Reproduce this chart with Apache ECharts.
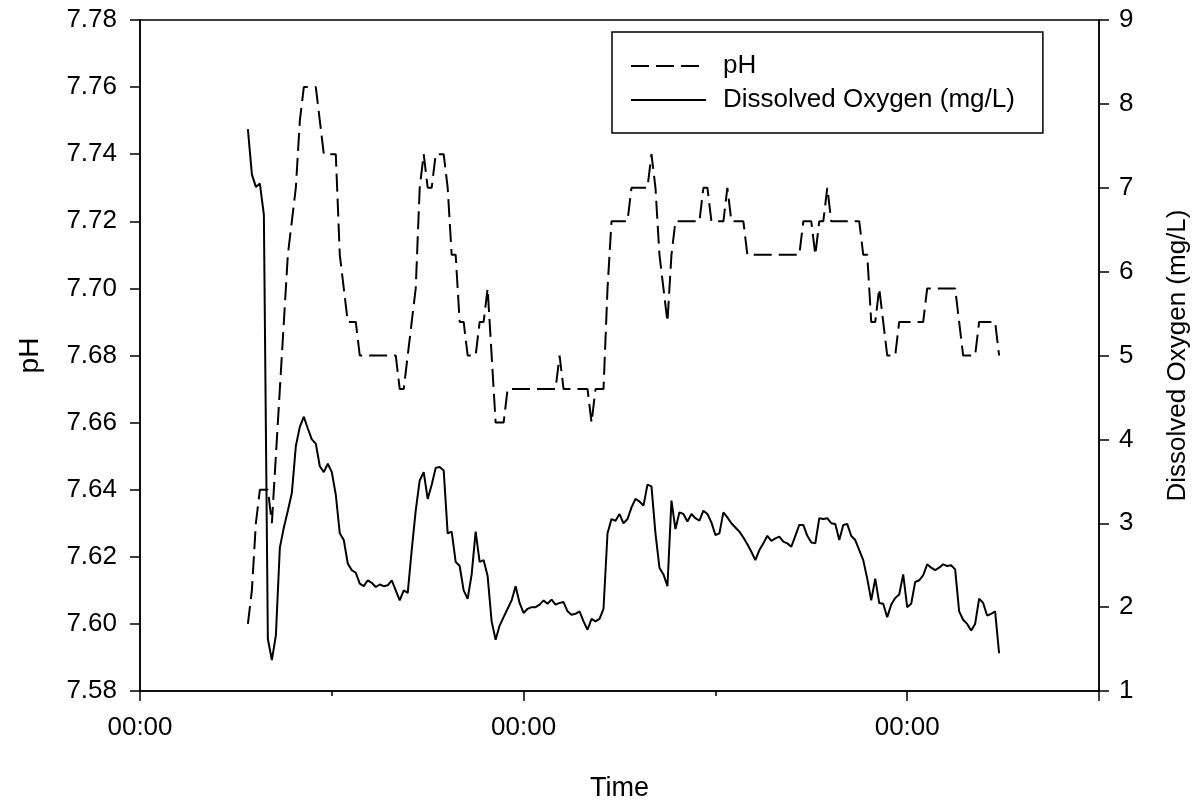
<!DOCTYPE html>
<html>
<head>
<meta charset="utf-8">
<script src="https://cdn.jsdelivr.net/npm/echarts@6.0.0/dist/echarts.min.js"></script>
<style>
  html, body { margin: 0; padding: 0; background: #fff; }
  #chart { width: 1193px; height: 801px; }
</style>
</head>
<body>
<div id="chart"></div>
<script>
// ---- data ----
// sampling: every 15 minutes, starting 06:45 of the first day (hours from the first 00:00)
const START_HOUR = 6.75;
const STEP_HOURS = 0.25;

const phValues = [
  7.60,7.61,7.63,7.64,7.64,7.64,7.63,7.65,7.67,7.69,
  7.71,7.72,7.73,7.75,7.76,7.76,7.76,7.76,7.75,7.74,
  7.74,7.74,7.74,7.71,7.70,7.69,7.69,7.69,7.68,7.68,
  7.68,7.68,7.68,7.68,7.68,7.68,7.68,7.68,7.67,7.67,
  7.68,7.69,7.70,7.73,7.74,7.73,7.73,7.74,7.74,7.74,
  7.73,7.71,7.71,7.69,7.69,7.68,7.68,7.68,7.69,7.69,
  7.70,7.68,7.66,7.66,7.66,7.67,7.67,7.67,7.67,7.67,
  7.67,7.67,7.67,7.67,7.67,7.67,7.67,7.67,7.68,7.67,
  7.67,7.67,7.67,7.67,7.67,7.67,7.66,7.67,7.67,7.67,
  7.70,7.72,7.72,7.72,7.72,7.72,7.73,7.73,7.73,7.73,
  7.73,7.74,7.73,7.71,7.70,7.69,7.71,7.72,7.72,7.72,
  7.72,7.72,7.72,7.72,7.73,7.73,7.72,7.72,7.72,7.72,
  7.73,7.72,7.72,7.72,7.72,7.71,7.71,7.71,7.71,7.71,
  7.71,7.71,7.71,7.71,7.71,7.71,7.71,7.71,7.71,7.72,
  7.72,7.72,7.71,7.72,7.72,7.73,7.72,7.72,7.72,7.72,
  7.72,7.72,7.72,7.72,7.71,7.71,7.69,7.69,7.70,7.69,
  7.68,7.68,7.68,7.69,7.69,7.69,7.69,7.69,7.69,7.69,
  7.70,7.70,7.70,7.70,7.70,7.70,7.70,7.70,7.69,7.68,
  7.68,7.68,7.68,7.69,7.69,7.69,7.69,7.69,7.68
];

const doValues = [
  7.70,7.16,7.01,7.05,6.68,1.62,1.37,1.66,2.71,2.95,
  3.15,3.36,3.92,4.15,4.27,4.13,4.00,3.95,3.68,3.61,
  3.71,3.61,3.34,2.88,2.80,2.52,2.44,2.41,2.28,2.25,
  2.32,2.29,2.24,2.27,2.25,2.26,2.32,2.20,2.08,2.20,
  2.17,2.68,3.15,3.51,3.61,3.29,3.46,3.66,3.67,3.63,
  2.88,2.90,2.54,2.49,2.20,2.10,2.39,2.90,2.54,2.56,
  2.37,1.83,1.61,1.78,1.88,1.98,2.08,2.25,2.05,1.93,
  1.98,2.00,2.00,2.03,2.08,2.04,2.09,2.03,2.05,2.06,
  1.95,1.91,1.92,1.95,1.83,1.73,1.86,1.83,1.86,1.98,
  2.88,3.05,3.03,3.11,3.00,3.05,3.19,3.29,3.26,3.21,
  3.46,3.44,2.88,2.47,2.39,2.25,3.27,2.93,3.13,3.11,
  3.02,3.11,3.06,3.03,3.15,3.11,3.01,2.86,2.88,3.13,
  3.07,3.00,2.95,2.90,2.83,2.75,2.66,2.56,2.68,2.76,
  2.85,2.79,2.82,2.84,2.78,2.76,2.72,2.85,2.98,2.98,
  2.85,2.77,2.76,3.06,3.05,3.06,3.00,2.99,2.80,2.98,
  2.99,2.85,2.80,2.68,2.56,2.34,2.08,2.34,2.05,2.04,
  1.88,2.03,2.11,2.15,2.39,2.00,2.04,2.30,2.32,2.38,
  2.51,2.47,2.44,2.47,2.51,2.49,2.50,2.45,1.95,1.85,
  1.80,1.72,1.80,2.10,2.05,1.90,1.92,1.95,1.45
];

const seriesNames = ['pH', 'Dissolved Oxygen (mg/L)'];
const timeLabelHours = [0, 24, 48];      // labelled "00:00"
const timeLabelText = '00:00';
const xRange = [0, 60];                  // hours
const phRange = [7.58, 7.78, 0.02];
const doRange = [1, 9, 1];

// ---- build ----
const timeHours = phValues.map((_, i) => START_HOUR + i * STEP_HOURS);
const phData = phValues.map((v, i) => [timeHours[i], v]);
const doData = doValues.map((v, i) => [timeHours[i], v]);

const FONT = '"Liberation Sans", Arial, Helvetica, sans-serif';
const black = '#000';
const axisLineStyle = { show: true, onZero: false, lineStyle: { color: black, width: 1.5 } };

const chart = echarts.init(document.getElementById('chart'), null, { renderer: 'canvas' });
chart.setOption({
  animation: false,
  backgroundColor: '#fff',
  textStyle: { fontFamily: FONT, color: black },
  grid: {
    left: 140, right: 94, top: 20, bottom: 110,
    show: true, borderColor: black, borderWidth: 1.5,
    containLabel: false, outerBoundsMode: 'none'
  },
  legend: {
    orient: 'vertical',
    left: 612, top: 32,
    padding: [21, 28, 20, 18],
    borderColor: black, borderWidth: 1.5,
    itemWidth: 75, itemHeight: 26, itemGap: 8,
    itemStyle: { opacity: 0, borderWidth: 0 },
    textStyle: { fontFamily: FONT, fontSize: 26, color: black, padding: [0, 0, 0, 12] },
    data: seriesNames
  },
  xAxis: [
    {
      type: 'value', position: 'bottom',
      min: xRange[0], max: xRange[1], interval: 12,
      name: 'Time', nameLocation: 'middle', nameGap: 84,
      nameTextStyle: { fontFamily: FONT, fontSize: 27, color: black },
      axisLine: axisLineStyle,
      axisTick: { show: true, length: 5, lineStyle: { color: black, width: 1.5 } },
      axisLabel: {
        fontFamily: FONT, fontSize: 26, color: black, margin: 24,
        formatter: v => (timeLabelHours.indexOf(v) >= 0 ? timeLabelText : '')
      },
      splitLine: { show: false }
    },
    {
      type: 'value', position: 'bottom',
      min: xRange[0], max: xRange[1], interval: 24,
      axisLine: { show: false, onZero: false },
      axisTick: { show: true, length: 10, lineStyle: { color: black, width: 1.5 } },
      axisLabel: { show: false },
      splitLine: { show: false }
    }
  ],
  yAxis: [
    {
      type: 'value', position: 'left',
      min: phRange[0], max: phRange[1], interval: phRange[2],
      name: 'pH', nameLocation: 'middle', nameGap: 96, nameRotate: 90,
      nameTextStyle: { fontFamily: FONT, fontSize: 28, color: black },
      axisLine: axisLineStyle,
      axisTick: { show: true, length: 10, lineStyle: { color: black, width: 1.5 } },
      axisLabel: {
        fontFamily: FONT, fontSize: 26, color: black, margin: 23,
        formatter: v => v.toFixed(2)
      },
      splitLine: { show: false }
    },
    {
      type: 'value', position: 'right',
      min: doRange[0], max: doRange[1], interval: doRange[2],
      name: 'Dissolved Oxygen (mg/L)', nameLocation: 'middle', nameGap: 66, nameRotate: 90,
      nameTextStyle: { fontFamily: FONT, fontSize: 26, color: black },
      axisLine: axisLineStyle,
      axisTick: { show: true, length: 10, lineStyle: { color: black, width: 1.5 } },
      axisLabel: { fontFamily: FONT, fontSize: 26, color: black, margin: 20 },
      splitLine: { show: false }
    }
  ],
  series: [
    {
      name: seriesNames[0], type: 'line', xAxisIndex: 0, yAxisIndex: 0,
      data: phData, symbol: 'none', showSymbol: false,
      lineStyle: { color: black, width: 2, type: [18, 7] },
      itemStyle: { color: black }
    },
    {
      name: seriesNames[1], type: 'line', xAxisIndex: 0, yAxisIndex: 1,
      data: doData, symbol: 'none', showSymbol: false,
      lineStyle: { color: black, width: 2, type: 'solid' },
      itemStyle: { color: black }
    }
  ]
});
</script>
</body>
</html>
